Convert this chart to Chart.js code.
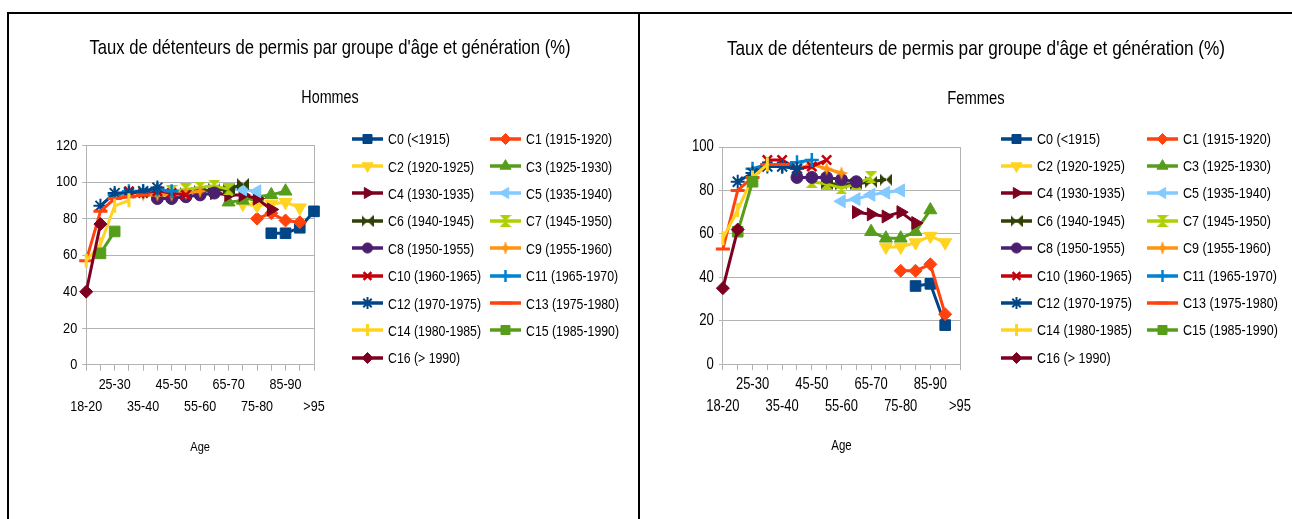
<!DOCTYPE html>
<html lang="fr">
<head>
<meta charset="UTF-8">
<title>Taux de détenteurs de permis</title>
<script src="https://cdn.jsdelivr.net/npm/chart.js@4.4.1/dist/chart.umd.min.js"></script>
<style>
  body { margin: 0; background: #fff; width: 1292px; height: 519px; overflow: hidden; position: relative;
         font-family: 'Liberation Sans', Arial, sans-serif; }
  .frame { position: absolute; background: #000; }
  .box { position: absolute; top: 20px; height: 440px; }
  .legend { position: absolute; top: 125px; display: grid; grid-auto-rows: 27.4px; color: #000; }
  .legend div { display: flex; align-items: center; white-space: nowrap; }
  .legend canvas { margin-right: 5px; }
  .legend span { display: inline-block; transform: scaleX(0.82); transform-origin: 0 50%; }
</style>
</head>
<body>
<div class="frame" style="left:7px;top:12px;width:2px;height:507px"></div>
<div class="frame" style="left:7px;top:12px;width:1285px;height:2px"></div>
<div class="frame" style="left:638px;top:12px;width:2px;height:507px"></div>

<div class="box" style="left:20px;width:620px"><canvas id="hommes"></canvas></div>
<div id="legendHommes" class="legend" style="left:352px;grid-template-columns:138px auto;font-size:15px"></div>

<div class="box" style="left:660px;width:632px"><canvas id="femmes"></canvas></div>
<div id="legendFemmes" class="legend" style="left:1001px;grid-template-columns:146px auto;font-size:15.3px"></div>

<script>
const _ = null;

const ages = ['18-20', '20-25', '25-30', '30-35', '35-40', '40-45', '45-50', '50-55', '55-60',
              '60-65', '65-70', '70-75', '75-80', '80-85', '85-90', '90-95', '>95'];

const generations = ['C0 (<1915)', 'C1 (1915-1920)', 'C2 (1920-1925)', 'C3 (1925-1930)',
  'C4 (1930-1935)', 'C5 (1935-1940)', 'C6 (1940-1945)', 'C7 (1945-1950)', 'C8 (1950-1955)',
  'C9 (1955-1960)', 'C10 (1960-1965)', 'C11 (1965-1970)', 'C12 (1970-1975)', 'C13 (1975-1980)',
  'C14 (1980-1985)', 'C15 (1985-1990)', 'C16 (> 1990)'];

const colors = ['#004586', '#ff420e', '#ffd320', '#579d1c', '#7e0021', '#83caff', '#314004',
  '#aecf00', '#4b1f6f', '#ff950e', '#c5000b', '#0084d1', '#004586', '#ff420e', '#ffd320',
  '#579d1c', '#7e0021'];

// Hommes
const hommesC0  = [_,_,_,_,_,_,_,_,_,_,_,_,_,72,72,75,84];
const hommesC1  = [_,_,_,_,_,_,_,_,_,_,_,_,80,83,79,78,_];
const hommesC2  = [_,_,_,_,_,_,_,_,_,_,_,88,87,88,89,86,_];
const hommesC3  = [_,_,_,_,_,_,_,_,_,_,89,90,92,93,95,_,_];
const hommesC4  = [_,_,_,_,_,_,_,_,_,94,93,93,91,85,_,_,_];
const hommesC5  = [_,_,_,_,_,_,_,_,94,95,96,96,95,_,_,_,_];
const hommesC6  = [_,_,_,_,_,_,_,94,95,96,96,99,_,_,_,_,_];
const hommesC7  = [_,_,_,_,_,_,95,96,97,98,96,_,_,_,_,_,_];
const hommesC8  = [_,_,_,_,_,91,91,92,93,94,_,_,_,_,_,_,_];
const hommesC9  = [_,_,_,_,93,93,93,94,95,_,_,_,_,_,_,_,_];
const hommesC10 = [_,_,_,95,94,95,94,93,_,_,_,_,_,_,_,_,_];
const hommesC11 = [_,_,93,95,95,96,95,_,_,_,_,_,_,_,_,_,_];
const hommesC12 = [_,87,94,94,95,97,_,_,_,_,_,_,_,_,_,_,_];
const hommesC13 = [57,84,91,92,93,_,_,_,_,_,_,_,_,_,_,_,_];
const hommesC14 = [57,66,87,90,_,_,_,_,_,_,_,_,_,_,_,_,_];
const hommesC15 = [_,61,73,_,_,_,_,_,_,_,_,_,_,_,_,_,_];
const hommesC16 = [40,77,_,_,_,_,_,_,_,_,_,_,_,_,_,_,_];

// Femmes
const femmesC0  = [_,_,_,_,_,_,_,_,_,_,_,_,_,36,37,18,_];
const femmesC1  = [_,_,_,_,_,_,_,_,_,_,_,_,43,43,46,23,_];
const femmesC2  = [_,_,_,_,_,_,_,_,_,_,_,54,54,56,59,56,_];
const femmesC3  = [_,_,_,_,_,_,_,_,_,_,61,58,58,61,71,_,_];
const femmesC4  = [_,_,_,_,_,_,_,_,_,70,69,68,70,65,_,_,_];
const femmesC5  = [_,_,_,_,_,_,_,_,75,76,78,79,80,_,_,_,_];
const femmesC6  = [_,_,_,_,_,_,_,83,83,83,84,85,_,_,_,_,_];
const femmesC7  = [_,_,_,_,_,_,84,83,81,83,86,_,_,_,_,_,_];
const femmesC8  = [_,_,_,_,_,86,86,86,85,84,_,_,_,_,_,_,_];
const femmesC9  = [_,_,_,_,91,90,92,90,88,_,_,_,_,_,_,_,_];
const femmesC10 = [_,_,_,94,94,90,91,94,_,_,_,_,_,_,_,_,_];
const femmesC11 = [_,_,90,92,91,93,94,_,_,_,_,_,_,_,_,_,_];
const femmesC12 = [_,84,88,91,91,90,_,_,_,_,_,_,_,_,_,_,_];
const femmesC13 = [53,80,86,92,92,_,_,_,_,_,_,_,_,_,_,_,_];
const femmesC14 = [58,71,86,92,_,_,_,_,_,_,_,_,_,_,_,_,_];
const femmesC15 = [_,61,84,_,_,_,_,_,_,_,_,_,_,_,_,_,_];
const femmesC16 = [35,62,_,_,_,_,_,_,_,_,_,_,_,_,_,_,_];

const hommesSeries = [hommesC0, hommesC1, hommesC2, hommesC3, hommesC4, hommesC5, hommesC6, hommesC7,
  hommesC8, hommesC9, hommesC10, hommesC11, hommesC12, hommesC13, hommesC14, hommesC15, hommesC16];
const femmesSeries = [femmesC0, femmesC1, femmesC2, femmesC3, femmesC4, femmesC5, femmesC6, femmesC7,
  femmesC8, femmesC9, femmesC10, femmesC11, femmesC12, femmesC13, femmesC14, femmesC15, femmesC16];

const FONT = "'Liberation Sans', Arial, sans-serif";
const GRID = '#b3b3b3';
const NARROW = 0.82; // the original uses a narrow font, squeeze canvas text the same way

// canvas text drawn horizontally condensed (measure is scaled too so layout stays right)
function narrowContext(canvas, sx) {
  const ctx = canvas.getContext('2d');
  const fill = ctx.fillText.bind(ctx);
  const measure = ctx.measureText.bind(ctx);
  ctx.fillText = function (text, x, y, maxWidth) {
    ctx.save();
    ctx.translate(x, y);
    ctx.scale(sx, 1);
    if (maxWidth === undefined) fill(text, 0, 0);
    else fill(text, 0, 0, maxWidth / sx);
    ctx.restore();
  };
  ctx.measureText = function (text) {
    const m = measure(text);
    return {
      width: m.width * sx,
      actualBoundingBoxAscent: m.actualBoundingBoxAscent,
      actualBoundingBoxDescent: m.actualBoundingBoxDescent,
      actualBoundingBoxLeft: m.actualBoundingBoxLeft * sx,
      actualBoundingBoxRight: m.actualBoundingBoxRight * sx
    };
  };
  return ctx;
}

// small canvas markers for the symbols Chart.js does not have
function shapeMarker(kind, color, s) {
  const c = document.createElement('canvas');
  c.width = s; c.height = s;
  const g = c.getContext('2d');
  g.fillStyle = color;
  g.beginPath();
  const m = s / 2, k = s * 0.13;
  if (kind === 'bowtie') {
    g.moveTo(0, 0); g.lineTo(s, s); g.lineTo(s, 0); g.lineTo(0, s);
  } else if (kind === 'hourglass') {
    g.moveTo(0, 0); g.lineTo(s, 0); g.lineTo(0, s); g.lineTo(s, s);
  } else { // 4 point star
    g.moveTo(m, 0); g.lineTo(m + k, m - k); g.lineTo(s, m); g.lineTo(m + k, m + k);
    g.lineTo(m, s); g.lineTo(m - k, m + k); g.lineTo(0, m); g.lineTo(m - k, m - k);
  }
  g.closePath();
  g.fill();
  return c;
}

const markers = [
  {style: 'rect', radius: 7.5},
  {style: 'rectRot', radius: 6.5},
  {style: 'triangle', rotation: 180, radius: 7.5},
  {style: 'triangle', radius: 7.5},
  {style: 'triangle', rotation: 90, radius: 7.5},
  {style: 'triangle', rotation: -90, radius: 7.5},
  {style: shapeMarker('bowtie', colors[6], 12), radius: 6},
  {style: shapeMarker('hourglass', colors[7], 12), radius: 6},
  {style: 'circle', radius: 6},
  {style: shapeMarker('star4', colors[9], 14), radius: 6},
  {style: 'crossRot', radius: 6.5, bw: 2.5},
  {style: 'cross', radius: 7, bw: 2.5},
  {style: 'star', radius: 7, bw: 2},
  {style: 'line', radius: 7, bw: 3},
  {style: 'line', rotation: 90, radius: 7, bw: 3},
  {style: 'rect', radius: 7.5},
  {style: 'rectRot', radius: 6.5}
];

function buildDatasets(series) {
  return series.map((data, i) => ({
    label: generations[i],
    data: data,
    borderColor: colors[i],
    backgroundColor: colors[i],
    borderWidth: 3,
    pointStyle: markers[i].style,
    pointRotation: markers[i].rotation || 0,
    pointRadius: markers[i].radius,
    pointHoverRadius: markers[i].radius,
    pointBorderWidth: markers[i].bw || 1,
    pointBackgroundColor: colors[i],
    pointBorderColor: colors[i],
    order: 16 - i
  }));
}

// every other age group, on two staggered rows
function xLabel(value, index) {
  if (index % 2) return '';
  return index % 4 === 0 ? ['', ages[index]] : [ages[index], ''];
}

function makeChart(id, series, subtitle, yMax, side, rightWidth, sizes) {
  const ctx = narrowContext(document.getElementById(id), NARROW);
  return new Chart(ctx, {
    type: 'line',
    data: { labels: ages, datasets: buildDatasets(series) },
    options: {
      responsive: true,
      maintainAspectRatio: false,
      animation: false,
      layout: { padding: { left: side, right: side, top: 0, bottom: 1 } },
      plugins: {
        legend: { display: false },
        tooltip: { enabled: false },
        title: {
          display: true,
          text: "Taux de détenteurs de permis par groupe d'âge et génération (%)",
          color: '#000',
          font: { family: FONT, size: sizes.title, weight: 'normal', lineHeight: 1.2 },
          padding: { top: 16.2, bottom: 14 }
        },
        subtitle: {
          display: true,
          text: subtitle,
          color: '#000',
          font: { family: FONT, size: sizes.sub, weight: 'normal', lineHeight: 1.2 },
          padding: { top: 13, bottom: 37 }
        }
      },
      scales: {
        x: {
          offset: false,
          grid: { drawOnChartArea: false, drawTicks: true, tickLength: 6, color: GRID },
          border: { color: GRID },
          ticks: {
            autoSkip: false, maxRotation: 0, minRotation: 0, padding: 3, color: '#000',
            font: { family: FONT, size: sizes.xtick, lineHeight: 22 / sizes.xtick },
            callback: xLabel
          },
          title: {
            display: true, text: 'Age', color: '#000',
            font: { family: FONT, size: sizes.age, lineHeight: 1.2 },
            padding: { top: 18, bottom: 4 }
          }
        },
        y: {
          min: 0, max: yMax,
          grid: { color: GRID, tickLength: 4 },
          border: { color: GRID },
          ticks: { stepSize: 20, padding: 5, color: '#000', font: { family: FONT, size: sizes.ytick } }
        },
        y2: {
          position: 'right',
          grid: { display: false },
          border: { display: true, color: GRID },
          ticks: { display: false },
          afterFit: scale => { scale.width = rightWidth; }
        }
      }
    }
  });
}

function legendIcon(ds) {
  const c = document.createElement('canvas');
  c.width = 31; c.height = 16;
  const g = c.getContext('2d');
  g.strokeStyle = ds.borderColor;
  g.lineWidth = 3.5;
  g.beginPath(); g.moveTo(0, 8); g.lineTo(31, 8); g.stroke();
  if (ds.pointStyle instanceof HTMLCanvasElement) {
    g.drawImage(ds.pointStyle, 15.5 - ds.pointStyle.width / 2, 8 - ds.pointStyle.height / 2);
  } else if (window.Chart && Chart.helpers && Chart.helpers.drawPoint) {
    g.fillStyle = ds.pointBackgroundColor;
    g.strokeStyle = ds.pointBorderColor;
    g.lineWidth = ds.pointBorderWidth;
    Chart.helpers.drawPoint(g, {
      pointStyle: ds.pointStyle, rotation: ds.pointRotation,
      radius: ds.pointRadius * 0.85, borderWidth: ds.pointBorderWidth
    }, 15.5, 8);
  }
  return c;
}

function buildLegend(chart, id) {
  const box = document.getElementById(id);
  chart.data.datasets.forEach(ds => {
    const item = document.createElement('div');
    item.appendChild(legendIcon(ds));
    const span = document.createElement('span');
    span.textContent = ds.label;
    item.appendChild(span);
    box.appendChild(item);
  });
}

const hommesChart = makeChart('hommes', hommesSeries, 'Hommes', 120, 31, 295,
  { title: 20.3, sub: 17.5, xtick: 15.3, ytick: 15.5, age: 13.5 });
const femmesChart = makeChart('femmes', femmesSeries, 'Femmes', 100, 27, 305,
  { title: 21, sub: 18, xtick: 15.8, ytick: 16, age: 14 });

buildLegend(hommesChart, 'legendHommes');
buildLegend(femmesChart, 'legendFemmes');
</script>
</body>
</html>
